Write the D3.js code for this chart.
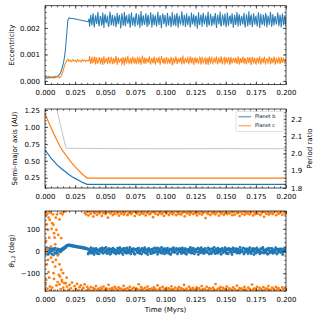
<!DOCTYPE html>
<html>
<head>
<meta charset="utf-8">
<script src="https://cdn.jsdelivr.net/npm/d3@7"></script>
<style>
body { margin: 0; background: #fff; }
svg text { font-family: "DejaVu Sans", sans-serif; }
</style>
</head>
<body>
<div id="chart"></div>
<script>
// ---- data ----
var xTicks = [0, 0.025, 0.05, 0.075, 0.1, 0.125, 0.15, 0.175, 0.2];
var eccTicks = [0, 0.001, 0.002];
var smaTicks = [0.25, 0.5, 0.75, 1.0, 1.25];
var ratioTicks = [1.8, 1.9, 2.0, 2.1, 2.2];
var angTicks = [-100, 0, 100];

// eccentricity, units of 1e-3, early part t = 0 .. 0.035 step 0.001
var eccEarlyB = [0.10,0.12,0.10,0.13,0.11,0.14,0.12,0.13,0.12,0.15,0.17,0.20,0.24,0.32,0.45,0.62,0.85,1.20,1.75,2.30,
  2.38,2.37,2.36,2.355,2.35,2.34,2.33,2.32,2.31,2.30,2.29,2.28,2.27,2.26,2.25,2.24];
var eccEarlyC = [0.15,0.17,0.14,0.18,0.15,0.16,0.13,0.17,0.15,0.18,0.14,0.16,0.12,0.15,0.24,0.38,0.55,0.68,0.76,0.82,
  0.74,0.79,0.72,0.80,0.75,0.78,0.71,0.81,0.74,0.77,0.72,0.80,0.75,0.79,0.73,0.78];
// noisy part, t = 0.036 .. 0.2, two interleaved samplings
var eccBandB = [2.24,2.05,2.50,2.10,2.55,2.02,2.48,2.15,2.60,2.06,2.45,2.12,2.58,2.00,2.52,2.18,2.47,2.04,2.62,2.10,
  2.50,2.08,2.44,2.03,2.57,2.14,2.49,1.98,2.55,2.11,2.60,2.07,2.46,2.16,2.53,2.01,2.58,2.09,2.42,2.05,
  2.56,2.13,2.51,2.00,2.64,2.08,2.47,2.12,2.55,2.04,2.49,2.17,2.59,2.02,2.52,2.10,2.45,2.06,2.61,2.11,
  2.48,1.99,2.54,2.14,2.50,2.05,2.57,2.09,2.43,2.03,2.60,2.12,2.51,2.07,2.56,2.01,2.47,2.15,2.63,2.08,
  2.49,2.04,2.55,2.10,2.46,2.02,2.58,2.13,2.52,2.06,2.44,1.97,2.59,2.11,2.50,2.05,2.57,2.16,2.48,2.03,
  2.61,2.09,2.53,2.07,2.45,2.12,2.56,2.00,2.50,2.14,2.62,2.06,2.47,2.10,2.54,2.03,2.58,2.08,2.43,2.15,
  2.55,2.01,2.49,2.11,2.60,2.05,2.52,2.09,2.46,2.13,2.57,2.02,2.51,2.07,2.63,2.10,2.48,2.04,2.55,2.12,
  2.44,2.06,2.59,2.00,2.53,2.14,2.50,2.08,2.56,2.03,2.47,2.11,2.61,2.05,2.52,2.09,2.45,2.13,2.58,2.07,
  2.50,2.02,2.54,2.10,2.48,2.06];
var eccBandB2 = [2.35,2.28,2.22,2.40,2.18,2.33,2.26,2.44,2.20,2.31,2.38,2.15,2.29,2.42,2.24,2.36,2.12,2.30,2.45,2.21,
  2.34,2.27,2.39,2.17,2.32,2.41,2.23,2.28,2.37,2.14,2.33,2.43,2.25,2.30,2.19,2.39,2.26,2.35,2.22,2.44,
  2.29,2.16,2.38,2.31,2.24,2.41,2.20,2.34,2.27,2.40,2.13,2.32,2.36,2.23,2.29,2.42,2.18,2.35,2.26,2.39,
  2.21,2.33,2.44,2.25,2.30,2.17,2.37,2.28,2.40,2.22,2.34,2.15,2.31,2.43,2.26,2.36,2.20,2.29,2.38,2.24,
  2.41,2.19,2.33,2.27,2.35,2.14,2.39,2.30,2.22,2.42,2.25,2.32,2.18,2.37,2.28,2.44,2.21,2.34,2.26,2.40,
  2.16,2.31,2.36,2.23,2.29,2.43,2.20,2.35,2.27,2.38,2.12,2.33,2.41,2.24,2.30,2.19,2.37,2.28,2.45,2.22,
  2.34,2.17,2.39,2.26,2.32,2.42,2.21,2.36,2.25,2.40,2.15,2.31,2.38,2.23,2.29,2.44,2.18,2.35,2.27,2.41,
  2.20,2.33,2.37,2.24,2.30,2.16,2.39,2.28,2.43,2.22,2.34,2.26,2.40,2.19,2.32,2.36,2.25,2.29,2.42,2.21,
  2.35,2.27,2.38,2.23,2.31];
var eccBandC = [0.76,0.95,0.64,0.88,0.70,0.92,0.62,0.85,0.68,0.90,0.66,0.87,0.60,0.93,0.71,0.84,0.63,0.89,0.67,0.91,
  0.65,0.86,0.69,0.94,0.61,0.88,0.72,0.83,0.64,0.90,0.58,0.87,0.68,0.92,0.66,0.85,0.62,0.89,0.70,0.84,
  0.63,0.91,0.67,0.86,0.60,0.93,0.69,0.88,0.65,0.84,0.71,0.90,0.62,0.87,0.66,0.92,0.64,0.85,0.68,0.89,
  0.61,0.94,0.70,0.86,0.63,0.88,0.67,0.83,0.65,0.91,0.59,0.87,0.69,0.90,0.64,0.85,0.72,0.89,0.62,0.92,
  0.66,0.84,0.68,0.88,0.63,0.93,0.70,0.86,0.61,0.90,0.67,0.85,0.65,0.89,0.62,0.91,0.69,0.84,0.64,0.87,
  0.60,0.92,0.68,0.88,0.66,0.85,0.71,0.90,0.63,0.86,0.67,0.93,0.62,0.84,0.65,0.89,0.69,0.87,0.61,0.91,
  0.66,0.85,0.70,0.88,0.64,0.90,0.62,0.86,0.68,0.92,0.65,0.84,0.63,0.89,0.67,0.87,0.60,0.91,0.69,0.85,
  0.64,0.88,0.66,0.93,0.62,0.86,0.70,0.89,0.65,0.84,0.68,0.90,0.63,0.87,0.67,0.92,0.61,0.85,0.66,0.88,
  0.64,0.90,0.68,0.86,0.65,0.80];
var eccBandC2 = [0.78,0.72,0.84,0.69,0.80,0.75,0.87,0.67,0.79,0.82,0.71,0.76,0.85,0.68,0.81,0.74,0.88,0.70,0.77,0.83,
  0.66,0.79,0.73,0.86,0.71,0.80,0.76,0.84,0.69,0.78,0.82,0.72,0.87,0.75,0.70,0.81,0.77,0.85,0.68,0.79,
  0.74,0.83,0.71,0.80,0.76,0.88,0.67,0.78,0.82,0.73,0.85,0.70,0.79,0.75,0.84,0.69,0.81,0.77,0.86,0.72,
  0.78,0.83,0.68,0.80,0.74,0.87,0.71,0.79,0.76,0.84,0.66,0.81,0.75,0.85,0.70,0.78,0.82,0.73,0.88,0.69,
  0.80,0.77,0.83,0.71,0.79,0.74,0.86,0.68,0.81,0.76,0.84,0.72,0.78,0.85,0.70,0.80,0.75,0.87,0.67,0.79,
  0.82,0.73,0.84,0.71,0.78,0.76,0.86,0.69,0.80,0.74,0.83,0.72,0.79,0.88,0.70,0.81,0.75,0.85,0.68,0.78,
  0.77,0.84,0.71,0.80,0.73,0.86,0.69,0.79,0.82,0.74,0.85,0.70,0.78,0.76,0.87,0.72,0.81,0.75,0.83,0.68,
  0.80,0.77,0.84,0.71,0.79,0.74,0.86,0.70,0.78,0.82,0.73,0.85,0.69,0.80,0.76,0.83,0.72,0.79,0.75,0.84,
  0.71,0.78,0.82,0.74,0.80];

// semi-major axis (AU)
var smaTime = [0,0.0025,0.005,0.0075,0.01,0.0125,0.015,0.0175,0.02,0.0225,0.025,0.0275,0.03,0.0325,0.035,0.2];
var smaB = [0.66,0.60,0.54,0.49,0.44,0.40,0.365,0.33,0.295,0.265,0.24,0.215,0.19,0.17,0.152,0.152];
var smaC = [1.20,1.09,0.99,0.89,0.80,0.71,0.64,0.58,0.52,0.46,0.41,0.365,0.32,0.28,0.245,0.245];
// period ratio
var ratioTime = [0,0.0097,0.0174,0.05,0.1,0.15,0.2];
var ratioVal = [2.54,2.257,2.03,2.028,2.027,2.028,2.027];

// resonant angle, blue: early t = 0 .. 0.035 step 0.0005
var angEarlyB = [5,-12,10,-6,14,-16,3,-9,12,-3,8,-14,0,11,-18,6,-7,13,-11,2,-5,9,-15,7,-2,
  4,-4,8,2,12,6,15,10,19,14,23,20,26,
  25,28,24,27,23,26,22,25,21,24,20,23,19,22,18,21,17,20,16,19,15,18,14,17,13,16,12,15,11,14,10,12,9];
// blue band, t = 0.0355 .. 0.2, two interleaved samplings
var angBandB = [8,-6,2,-10,5,-3,11,-8,0,7,-12,4,-1,9,-5,3,-9,12,-4,1,6,-7,10,-2,-11,5,0,8,-6,3,-9,13,-3,6,-1,-8,9,2,-5,11,
  -10,4,-2,7,-7,1,10,-4,-12,6,3,-6,9,0,-9,5,12,-3,-1,8,-8,2,-5,10,4,-11,7,-2,1,-7,9,-4,14,-6,3,0,-10,6,-3,11,
  -1,-8,5,2,-6,8,-13,4,-2,10,-5,1,7,-9,3,12,-4,-1,6,-7,9,0,-11,5,-3,8,2,-6,10,-9,4,-1,7,-5,13,-2,-8,3,6,-10,
  1,9,-4,0,-7,11,5,-3,-12,8,2,-6,4,10,-1,-9,6,-4,3,12,-7,0,5,-2,9,-11,7,1,-5,-8,4,11,-3,2,-6,8,-1,-10,6,3,
  -4,13,-8,0,5,-2,9,-6,1,-12,7,4,-3,10,-9,2,6,-5,-1,8,-7,11,3,-4,0,-10,5,9,-2,-6,12,1,-8,4,-3,7,-11,2,6,-5,
  10,-1,-7,3,8,-4];
var angBandB2 = [-14,10,-3,15,-9,6,-16,2,12,-7,4,-13,9,-1,14,-10,7,-5,16,-12,3,11,-15,8,-2,13,-8,5,-14,1,10,-11,15,-4,6,-16,12,-6,0,14,
  -9,3,16,-13,7,-2,11,-15,5,9,-7,13,-11,2,-14,8,-4,15,-10,6,-16,12,-1,4,-12,10,-8,14,-3,7,-15,1,11,-6,16,-9,5,-13,9,-2,
  13,-11,3,-16,10,-5,15,-7,0,12,-14,6,-3,8,-12,14,-1,-9,11,-15,4,7,-6,16,-10,2,13,-13,5,-4,10,-16,9,-8,15,-2,6,-11,12,-5,
  1,14,-14,8,-7,11,-3,16,-12,4,-9,13,-1,7,-15,10,-6,3,15,-11,5,-13,12,-2,8,-16,14,-4,0,11,-10,6,-8,16,-5,2,13,-14,9,-3,
  10,-12,4,15,-7,-1,12,-16,7,-9,14,-4,3,-13,11,-6,16,-10,5,-2,9,-15,13,-8,1,12,-11,6,-5,15,-14,8,-3,10,-7,2,-16,11,-1,14];
// orange, scattered early points [t, angle]
var angScatterC = [[0.0005,175],[0.001,160],[0.0015,120],[0.002,168],[0.0025,95],[0.003,150],[0.001,45],[0.0012,-5],
  [0.002,8],[0.0035,60],[0.004,140],[0.0045,172],[0.0015,-60],[0.0025,-40],[0.003,-95],[0.0005,-150],[0.001,-130],
  [0.002,-170],[0.0035,-120],[0.004,-160],[0.0055,100],[0.006,125],[0.0065,165],[0.007,118],[0.0075,80],[0.005,-30],
  [0.0065,-50],[0.007,-100],[0.0075,-125],[0.008,60],[0.0085,-70],[0.009,150],[0.0095,95],[0.01,165],[0.0105,-140],
  [0.011,73],[0.0115,-108],[0.012,142],[0.0125,-115],[0.013,170],[0.0135,58],[0.014,-130],[0.0145,165],[0.015,-100],
  [0.0155,175],[0.016,-145],[0.017,178],[0.018,-120],[0.005,20],[0.0045,-175],[0.0085,30],[0.009,-40],[0.0105,-20],
  [0.012,-60],[0.0135,-85],[0.006,-165],[0.008,-178],[0.0095,-155],[0.0035,178]];
// orange top band, t = 0.033 .. 0.2
var angTopC = [172,165,178,160,175,168,179,155,170,176,163,174,169,178,158,171,177,166,173,150,176,169,179,162,174,167,178,171,159,175,
  168,177,164,172,179,161,170,176,166,173,178,157,174,169,177,163,171,179,167,175,160,172,178,165,170,176,152,174,168,179,
  163,171,177,166,173,158,175,169,178,162,172,176,165,170,179,161,174,167,177,164,171,178,156,173,169,175,163,172,179,166,
  170,177,160,174,168,178,164,171,176,148,173,167,179,162,175,170,177,165,172,178,159,174,168,176,163,171,179,166,173,169,
  177,161,175,164,178,170,172,157,176,167,179,163,174,169,177,165,171,178,160,173,166,175,168,179,162,172,176,154,174,167,
  178,164,170,177,166,173,179,161,175,168,172,176,163,178,169,171];
// orange bottom band, t = 0.012 .. 0.2
var angBotC = [-150,-172,-138,-165,-178,-145,-160,-175,-152,-168,-142,-179,-158,-170,-148,-176,-163,-155,-174,-166,-150,-178,-161,
  -170,-176,-163,-179,-167,-172,-158,-175,-169,-178,-165,-173,-160,-177,-168,-174,-152,-171,-179,-166,-175,-162,-170,-178,
  -164,-173,-169,-176,-157,-172,-179,-167,-174,-161,-177,-170,-165,-178,-168,-173,-150,-175,-163,-171,-179,-166,-176,-160,
  -172,-178,-169,-174,-164,-170,-177,-155,-173,-167,-179,-162,-175,-171,-166,-178,-168,-174,-159,-172,-176,-165,-179,-170,
  -163,-177,-168,-173,-153,-175,-169,-178,-161,-171,-176,-166,-174,-179,-164,-172,-168,-177,-158,-173,-170,-175,-162,-178,
  -167,-171,-179,-165,-174,-149,-176,-169,-172,-163,-178,-166,-175,-170,-160,-177,-168,-173,-179,-164,-171,-175,-156,-178,
  -167,-172,-169,-176,-162,-174,-179,-165,-170,-177,-151,-173,-168,-175,-161,-178,-166,-172,-179,-163,-176,-169,-171,-158,
  -174,-177,-165,-170,-178,-162,-173,-167,-175,-179,-164,-172,-169,-176];

var blue = "#1f77b4", orange = "#ff7f0e";

// ---- layout ----
var left = 45, right = 286;
var p1 = {top: 5.7, bottom: 84.5}, p2 = {top: 109, bottom: 188}, p3 = {top: 211, bottom: 291};

var svg = d3.select("#chart").append("svg").attr("width", 320).attr("height", 320);

var x = d3.scaleLinear().domain([0, 0.2]).range([left, right]);
var yEcc = d3.scaleLinear().domain([-0.000135, 0.00284]).range([p1.bottom, p1.top]);
var ySma = d3.scaleLinear().domain([0.098, 1.265]).range([p2.bottom, p2.top]);
var yRat = d3.scaleLinear().domain([1.8, 2.257]).range([p2.bottom, p2.top]);
var yAng = d3.scaleLinear().domain([-180, 180]).range([p3.bottom, p3.top]);

function range(a, b, s) {  // tick positions only
    var out = [];
    for (var v = a; v <= b + s / 2; v += s) out.push(+v.toFixed(6));
    return out;
}
var xMinor = range(0, 0.2, 0.005);

function axis(fn, scale, vals, size, fmt, pad, tx, ty) {
    var a = fn(scale).tickValues(vals).tickSizeInner(-size).tickSizeOuter(0).tickPadding(pad)
        .tickFormat(fmt || function() { return ""; });
    var g = svg.append("g").attr("transform", "translate(" + tx + "," + ty + ")").call(a);
    g.attr("font-size", 7).attr("font-family", null);
    g.select(".domain").remove();
    g.selectAll("line").attr("stroke", "#222").attr("stroke-width", 0.7);
    g.selectAll("text").attr("fill", "#000");
    return g;
}

function panel(p, y, yMajor, yMinor, yFmt, rightLabels) {
    var f3 = d3.format(".3f");
    axis(d3.axisBottom, x, xTicks, 3, f3, 6, 0, p.bottom);
    axis(d3.axisBottom, x, xMinor, 1.7, null, 0, 0, p.bottom);
    axis(d3.axisTop, x, xTicks, 3, null, 0, 0, p.top);
    axis(d3.axisTop, x, xMinor, 1.7, null, 0, 0, p.top);
    axis(d3.axisLeft, y, yMajor, 3, yFmt, 5, left, 0);
    axis(d3.axisLeft, y, yMinor, 1.7, null, 0, left, 0);
    if (!rightLabels) {
        axis(d3.axisRight, y, yMajor, 3, null, 0, right, 0);
        axis(d3.axisRight, y, yMinor, 1.7, null, 0, right, 0);
    }
    svg.append("rect").attr("x", left).attr("y", p.top)
        .attr("width", right - left).attr("height", p.bottom - p.top)
        .attr("fill", "none").attr("stroke", "#222").attr("stroke-width", 0.8);
}

function clip(id, p) {
    svg.append("clipPath").attr("id", id).append("rect")
        .attr("x", left).attr("y", p.top).attr("width", right - left).attr("height", p.bottom - p.top);
    return svg.append("g").attr("clip-path", "url(#" + id + ")");
}

function along(vals, a, b) {  // pair each sample with its time on an even grid
    return vals.map(function(v, i) { return [a + (b - a) * i / (vals.length - 1), v]; });
}
function byTime(a, b) { return a[0] - b[0]; }

// ---- panel 1: eccentricity ----
var g1 = clip("c1", p1);
var eccLine = d3.line().x(function(d) { return x(d[0]); }).y(function(d) { return yEcc(d[1] * 1e-3); });
var eccB = along(eccEarlyB, 0, 0.035)
    .concat(along(eccBandB, 0.036, 0.2), along(eccBandB2, 0.0365, 0.1995)).sort(byTime);
var eccC = along(eccEarlyC, 0, 0.035)
    .concat(along(eccBandC, 0.036, 0.2), along(eccBandC2, 0.0365, 0.1995)).sort(byTime);
[[eccB, blue], [eccC, orange]].forEach(function(s) {
    g1.append("path").attr("d", eccLine(s[0]))
        .attr("fill", "none").attr("stroke", s[1]).attr("stroke-width", 1.05).attr("opacity", 0.95);
});
panel(p1, yEcc, eccTicks, range(0, 0.0028, 0.0002), d3.format(".3f"), false);

// ---- panel 2: semi-major axis + period ratio ----
var g2 = clip("c2", p2);
var ratLine = d3.line().x(function(d, i) { return x(ratioTime[i]); }).y(function(d) { return yRat(d); });
g2.append("path").attr("d", ratLine(ratioVal)).attr("fill", "none")
    .attr("stroke", "#aaa").attr("stroke-width", 0.7);
var smaLine = function(vals) {
    return d3.line().x(function(d, i) { return x(smaTime[i]); }).y(function(d) { return ySma(d); })(vals);
};
g2.append("path").attr("d", smaLine(smaB)).attr("fill", "none").attr("stroke", blue).attr("stroke-width", 1.2);
g2.append("path").attr("d", smaLine(smaC)).attr("fill", "none").attr("stroke", orange).attr("stroke-width", 1.2);
panel(p2, ySma, smaTicks, range(0.1, 1.25, 0.05), d3.format(".2f"), true);
axis(d3.axisRight, yRat, ratioTicks, 3, d3.format(".1f"), 5, right, 0);
axis(d3.axisRight, yRat, range(1.8, 2.24, 0.02), 1.7, null, 0, right, 0);

// legend
var lg = svg.append("g");
lg.append("rect").attr("x", 236).attr("y", 111.5).attr("width", 48).attr("height", 20).attr("rx", 1.5)
    .attr("fill", "#fff").attr("fill-opacity", 0.8).attr("stroke", "#ccc").attr("stroke-width", 0.6);
[["Planet b", blue, 116.7], ["Planet c", orange, 125.7]].forEach(function(e) {
    lg.append("line").attr("x1", 238.5).attr("x2", 251).attr("y1", e[2]).attr("y2", e[2])
        .attr("stroke", e[1]).attr("stroke-width", 1.5).attr("opacity", 0.6);
    lg.append("text").attr("x", 255).attr("y", e[2]).attr("dy", "0.35em")
        .attr("font-size", 5).text(e[0]);
});

// ---- panel 3: resonant angle ----
var g3 = clip("c3", p3);
var bluePts = along(angEarlyB, 0, 0.035)
    .concat(along(angBandB, 0.0355, 0.2), along(angBandB2, 0.0358, 0.1997));
var orangePts = angScatterC
    .concat(along(angTopC, 0.033, 0.2), along(angBotC, 0.012, 0.2));
g3.selectAll(".pb").data(bluePts).enter().append("circle")
    .attr("cx", function(d) { return x(d[0]); }).attr("cy", function(d) { return yAng(d[1]); })
    .attr("r", 1.4).attr("fill", blue);
g3.selectAll(".pc").data(orangePts).enter().append("circle")
    .attr("cx", function(d) { return x(d[0]); }).attr("cy", function(d) { return yAng(d[1]); })
    .attr("r", 1.4).attr("fill", orange);
panel(p3, yAng, angTicks, range(-180, 180, 20), d3.format("d"), false);

// ---- axis titles ----
function ylabel(txt, cx, cy) {
    return svg.append("text").attr("transform", "translate(" + cx + "," + cy + ") rotate(-90)")
        .attr("text-anchor", "middle").attr("dy", "0.35em").attr("font-size", 7).text(txt);
}
ylabel("Eccentricity", 11.5, (p1.top + p1.bottom) / 2);
ylabel("Semi-major axis (AU)", 14.5, (p2.top + p2.bottom) / 2);
ylabel("Period ratio", 310, (p2.top + p2.bottom) / 2);
var th = ylabel("", 11.5, (p3.top + p3.bottom) / 2);
th.append("tspan").attr("font-style", "italic").text("θ");
th.append("tspan").attr("font-size", 5).attr("dy", 1.5).text("1,2");
th.append("tspan").attr("dy", -1.5).text(" (deg)");
svg.append("text").attr("x", (left + right) / 2).attr("y", 312).attr("text-anchor", "middle")
    .attr("font-size", 7).text("Time (Myrs)");
</script>
</body>
</html>
